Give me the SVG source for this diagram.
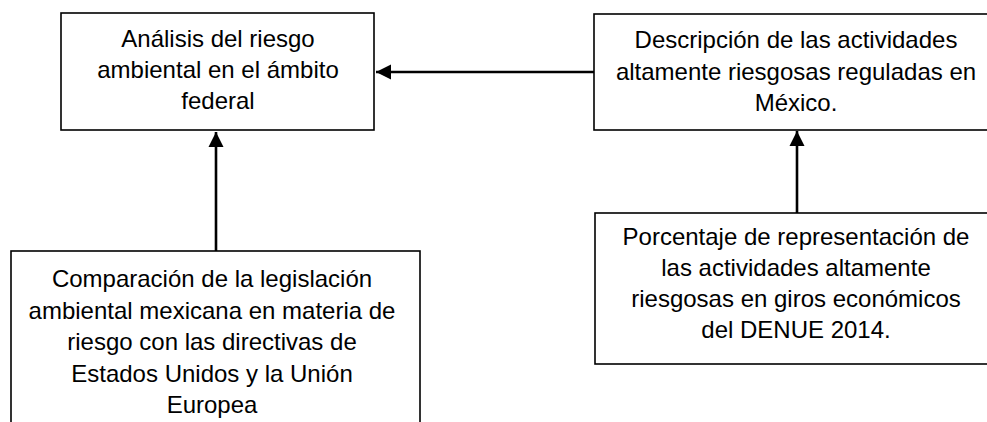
<svg xmlns="http://www.w3.org/2000/svg" width="987" height="422" viewBox="0 0 987 422">
<style>
.box{fill:#fff;stroke:#000;stroke-width:1.6}
.t{font-family:"Liberation Sans",Arial,sans-serif;font-size:24px;fill:#000;text-anchor:middle}
.c{stroke:#000;stroke-width:2.6;fill:none}
</style>
<defs>
<marker id="ah" markerUnits="userSpaceOnUse" markerWidth="16" markerHeight="16" viewBox="0 0 16 16" refX="15" refY="8" orient="auto">
<path d="M0,0.5 L15,8 L0,15.5 Z" fill="#000"/>
</marker>
</defs>
<rect width="987" height="422" fill="#fff"/>
<g id="n1">
<rect class="box" x="61" y="13" width="313" height="117"/>
<text class="t" x="218" y="47">Análisis del riesgo</text>
<text class="t" x="218" y="78">ambiental en el ámbito</text>
<text class="t" x="218" y="109">federal</text>
</g>
<g id="n2">
<rect class="box" x="594" y="14" width="404" height="116"/>
<text class="t" x="796" y="48">Descripción de las actividades</text>
<text class="t" x="796" y="80">altamente riesgosas reguladas en</text>
<text class="t" x="796" y="111">México.</text>
</g>
<g id="n3">
<rect class="box" x="11" y="251" width="409" height="200"/>
<text class="t" x="212" y="287">Comparación de la legislación</text>
<text class="t" x="212" y="319">ambiental mexicana en materia de</text>
<text class="t" x="212" y="350">riesgo con las directivas de</text>
<text class="t" x="212" y="382">Estados Unidos y la Unión</text>
<text class="t" x="212" y="413">Europea</text>
</g>
<g id="n4">
<rect class="box" x="595" y="213" width="404" height="151"/>
<text class="t" x="796" y="245">Porcentaje de representación de</text>
<text class="t" x="796" y="276">las actividades altamente</text>
<text class="t" x="796" y="307">riesgosas en giros económicos</text>
<text class="t" x="796" y="338">del DENUE 2014.</text>
</g>
<g id="connectors">
<line class="c" x1="216" y1="251" x2="216" y2="132" marker-end="url(#ah)"/>
<line class="c" x1="594" y1="72" x2="376" y2="72" marker-end="url(#ah)"/>
<line class="c" x1="797" y1="213" x2="797" y2="131" marker-end="url(#ah)"/>
</g>
</svg>
